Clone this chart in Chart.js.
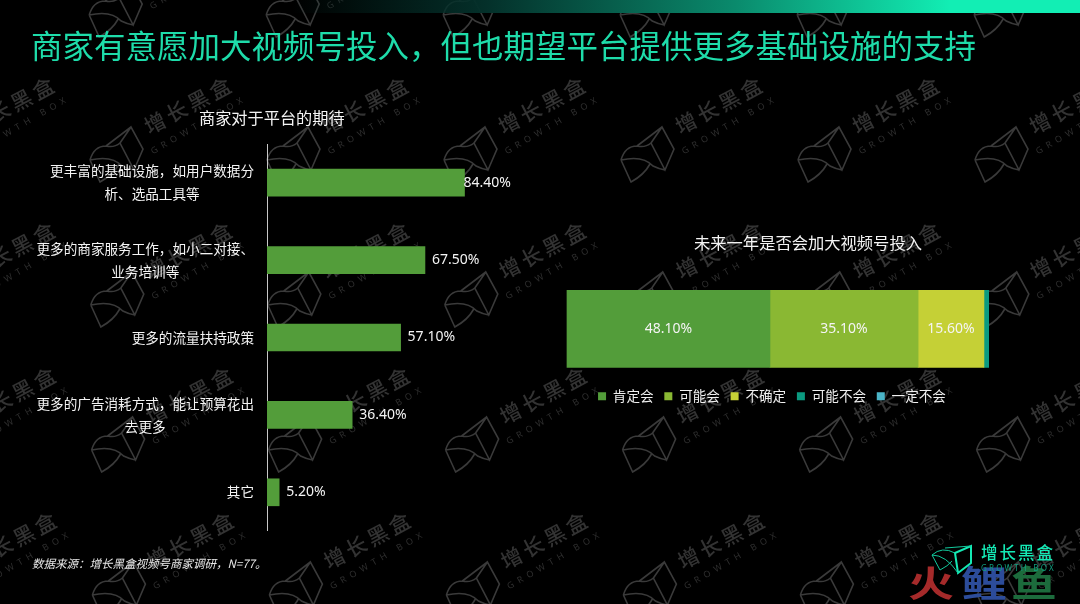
<!DOCTYPE html>
<html lang="zh"><head><meta charset="utf-8">
<script src="https://cdn.jsdelivr.net/npm/chart.js@4/dist/chart.umd.min.js"></script>
<style>
html,body{margin:0;padding:0;background:#000;width:1080px;height:604px;overflow:hidden}
canvas,div.t{position:absolute}
div.t{white-space:nowrap;font-family:"Noto Sans CJK SC","Noto Sans",sans-serif;color:#fff}
#topbar{position:absolute;left:0;top:0;width:1080px;height:13px;background:linear-gradient(90deg,rgba(0,0,0,0) 27%,#04302a 45%,#0a8a6c 68%,#12eeb4 88%,#12eeb4 100%)}
.big{font-size:46px;line-height:64px;font-weight:700;top:549px;transform:scale(1,.78)}
</style></head><body>
<canvas id="bg" width="1080" height="604" style="left:0;top:0"></canvas>
<div id="topbar"></div>
<div class="t" style="left:31px;top:22px;font-size:31.5px;line-height:44px;color:#1edcaa">商家有意愿加大视频号投入，但也期望平台提供更多基础设施的支持</div>
<div class="t" style="left:199px;top:105px;font-size:16.2px;line-height:24px;color:#f4f4f4">商家对于平台的期待</div>
<div class="t" style="left:694px;top:230px;font-size:16.3px;line-height:24px;color:#f4f4f4">未来一年是否会加大视频号投入</div>
<div class="t" style="left:32px;top:554px;font-size:11.5px;line-height:18px;font-style:italic;color:#e8e8e8">数据来源：增长黑盒视频号商家调研，N=77。</div>
<canvas id="left" style="left:0;top:144px;width:544px;height:387px"></canvas>
<canvas id="right" style="left:552px;top:279px;width:440px;height:134px"></canvas>
<div class="t big" style="left:908px;color:#a52a2a">火</div>
<div class="t big" style="left:961px;color:#2c4c9a">鲤</div>
<div class="t big" style="left:1011px;color:#1c6b3c">鱼</div>
<canvas id="logo" width="160" height="50" style="left:920px;top:535px"></canvas>
<script>
const expectationCategories=[["更丰富的基础设施，如用户数据分","析、选品工具等"],["更多的商家服务工作，如小二对接、","业务培训等"],["更多的流量扶持政策"],["更多的广告消耗方式，能让预算花出","去更多"],["其它"]];
const expectationValues=[84.4,67.5,57.1,36.4,5.2];
const intentCategories=["未来一年"];
const intentSeries=["肯定会","可能会","不确定","可能不会","一定不会"];
const intentValues=[48.1,35.1,15.6,1.3,0];

const CN='"Noto Sans CJK SC","Noto Sans",sans-serif';
const NUM='"Noto Sans","Noto Sans CJK SC",sans-serif';
const GREEN='#539d3a';
const intentColors=['#539d3a','#8ab833','#c5d036','#0b9a80','#4bb5c8'];

function iconPath(c,cx,cy){
  const P=(x,y)=>[cx+x,cy+y];
  c.beginPath();
  c.moveTo(...P(4,-12));c.lineTo(...P(15,-28));c.lineTo(...P(27,-6));c.lineTo(...P(18,15));c.closePath();
  c.moveTo(...P(15,-28));c.lineTo(...P(-10,-9));
  c.moveTo(...P(-26,5));c.quadraticCurveTo(...P(-22,-9),...P(-10,-9));c.quadraticCurveTo(...P(-2,-7),...P(4,-12));
  c.moveTo(...P(-26,5));c.quadraticCurveTo(...P(-4,0),...P(6,11));c.quadraticCurveTo(...P(12,14),...P(18,15));
  c.moveTo(...P(-26,5));c.lineTo(...P(-16,27));c.quadraticCurveTo(...P(-3,20),...P(3,9));
}
(function(){
  const c=document.getElementById('bg').getContext('2d');
  c.fillStyle='#000';c.fillRect(0,0,1080,604);
  for(let r=-1;r<=4;r++){for(let k=-2;k<=6;k++){
    const x=116+r*0.8+177*k,y=155+145*r;
    c.strokeStyle='#3a3a3a';c.lineWidth=1.6;iconPath(c,x,y);c.stroke();
    c.save();c.translate(x+73,y-50);c.rotate(-28*Math.PI/180);
    c.fillStyle='#333';c.textAlign='center';c.textBaseline='middle';
    c.font='500 21px '+CN;c.letterSpacing='3.5px';c.fillText('增长黑盒',0,0);c.restore();
    c.save();c.translate(x+83,y-30);c.rotate(-30*Math.PI/180);
    c.fillStyle='#2e2e2e';c.textAlign='center';c.textBaseline='middle';
    c.font='9px '+NUM;c.letterSpacing='5px';c.fillText('GROWTH BOX',0,0);c.restore();
  }}
  const l=document.getElementById('logo').getContext('2d');
  const X=x=>x-920,Y=y=>y-535;
  l.strokeStyle='#14e8b4';l.lineWidth=2;l.beginPath();
  l.moveTo(X(955),Y(553));l.lineTo(X(971),Y(546));l.lineTo(X(971),Y(563));l.lineTo(X(958),Y(573));l.closePath();l.stroke();
  l.lineWidth=1;l.strokeStyle='#12c99c';l.beginPath();
  l.moveTo(X(971),Y(546));l.lineTo(X(945),Y(548));
  l.moveTo(X(932),Y(555));l.quadraticCurveTo(X(942),Y(546),X(955),Y(553));
  l.moveTo(X(932),Y(555));l.quadraticCurveTo(X(946),Y(555),X(958),Y(573));
  l.moveTo(X(932),Y(555));l.lineTo(X(940),Y(570));l.quadraticCurveTo(X(948),Y(566),X(952),Y(561));
  l.stroke();
  l.fillStyle='#14e8b4';l.textBaseline='middle';
  l.font='500 16.5px '+CN;l.letterSpacing='2px';l.fillText('增长黑盒',61,18);
  l.fillStyle='#0f9d7e';l.font='8px '+NUM;l.letterSpacing='2.2px';l.fillText('GROWTH BOX',61,34);
})();

const fmt=v=>v.toFixed(2)+'%';
const barLabels={id:'barLabels',afterDatasetsDraw(ch){
  const c=ch.ctx,m=ch.getDatasetMeta(0);
  c.save();c.font='14px '+NUM;c.fillStyle='#f4f4f4';c.textAlign='left';c.textBaseline='middle';
  m.data.forEach((e,i)=>{const v=ch.data.datasets[0].data[i];c.fillText(fmt(v),e.x+(v>80?-1:7),e.y);});
  c.restore();
}};
const wrappedTicks={id:'wrappedTicks',afterDraw(ch){
  const c=ch.ctx,s=ch.scales.y;
  c.save();c.font='13.6px '+CN;c.fillStyle='#f4f4f4';c.textAlign='center';c.textBaseline='middle';
  ch.data.labels.forEach((lab,i)=>{
    const w=Math.max(...lab.map(t=>c.measureText(t).width));
    const cx=254-w/2,y=s.getPixelForTick(i);
    lab.forEach((t,j)=>c.fillText(t,cx,y+(j-(lab.length-1)/2)*23));
  });
  c.restore();
}};
const segLabels={id:'segLabels',afterDatasetsDraw(ch){
  const c=ch.ctx;
  c.save();c.font='14px '+NUM;c.fillStyle='#f4f4f4';c.textAlign='center';c.textBaseline='middle';
  ch.data.datasets.forEach((d,i)=>{const e=ch.getDatasetMeta(i).data[0];
    if(d.data[0]>=5)c.fillText(fmt(d.data[0]),(e.x+e.base)/2,e.y);});
  c.restore();
}};

new Chart(document.getElementById('left'),{
  type:'bar',
  data:{labels:expectationCategories,datasets:[{data:expectationValues,backgroundColor:GREEN,barThickness:27}]},
  plugins:[barLabels,wrappedTicks],
  options:{indexAxis:'y',responsive:false,animation:false,devicePixelRatio:1,
    layout:{padding:{left:267,right:43,top:0,bottom:0}},
    plugins:{legend:{display:false},tooltip:{enabled:false}},
    scales:{
      x:{display:false,min:0,max:100},
      y:{grid:{display:false,drawTicks:false},ticks:{display:false},border:{display:true,color:'#c8c8c8',width:1}}
    }}
});
new Chart(document.getElementById('right'),{
  type:'bar',
  data:{labels:intentCategories,datasets:intentSeries.map((n,i)=>({label:n,data:[intentValues[i]],backgroundColor:intentColors[i],barThickness:77,stack:'a'}))},
  plugins:[segLabels],
  options:{indexAxis:'y',responsive:false,animation:false,devicePixelRatio:1,
    layout:{padding:{left:3,right:3,top:0,bottom:0}},
    plugins:{tooltip:{enabled:false},
      legend:{position:'bottom',labels:{color:'#f0f0f0',boxWidth:8,boxHeight:8,padding:10.7,font:{family:CN,size:13.6}}}},
    scales:{
      x:{display:false,stacked:true,min:-2.84,max:100},
      y:{display:false,stacked:true}
    }}
});
</script></body></html>
